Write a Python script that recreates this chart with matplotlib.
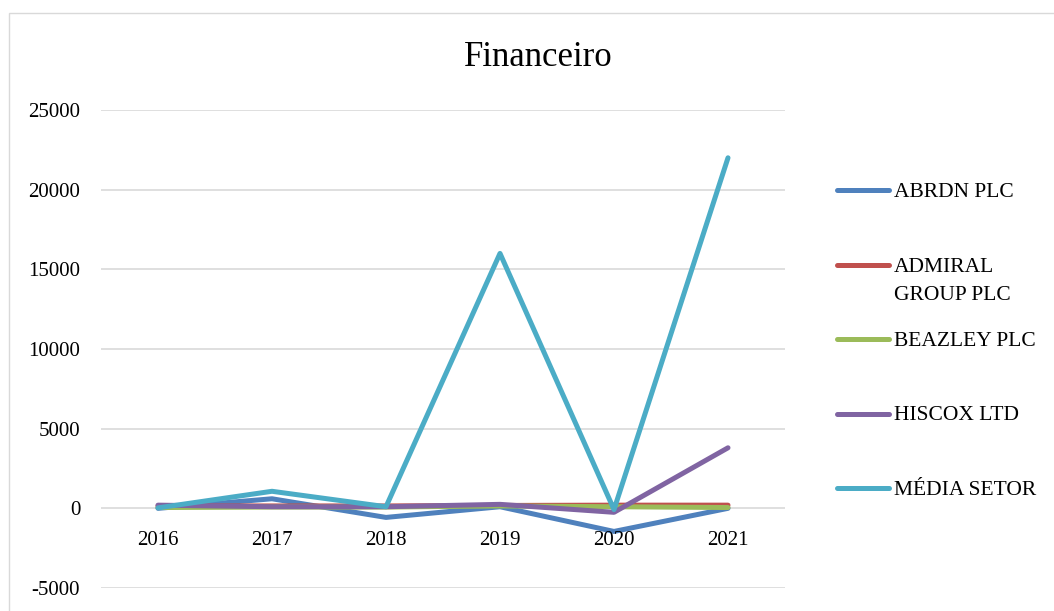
import matplotlib
matplotlib.use("Agg")
import matplotlib.pyplot as plt
from matplotlib.lines import Line2D
from matplotlib.patches import Rectangle

# Dados
anos = ["2016", "2017", "2018", "2019", "2020", "2021"]
series = ["ABRDN PLC", "ADMIRAL\nGROUP PLC", "BEAZLEY PLC", "HISCOX LTD", "MÉDIA SETOR"]
abrdn = [0, 600, -570, 100, -1450, 0]
admiral = [150, 150, 150, 180, 200, 200]
beazley = [50, 80, 80, 150, 100, 50]
hiscox = [200, 100, 100, 250, -250, 3800]
media = [30, 1070, 100, 16000, -80, 22000]
valores = [abrdn, admiral, beazley, hiscox, media]
cores = ["#4F81BD", "#C0504D", "#9BBB59", "#8064A2", "#4BACC6"]

plt.rcParams["font.family"] = ["Liberation Serif", "DejaVu Serif"]

fig = plt.figure(figsize=(10.54, 6.11), dpi=100)
W, H = 1054, 611

# moldura do grafico
fig.add_artist(Rectangle((9 / W, -0.1), 1.2, (H - 13) / H + 0.1, transform=fig.transFigure,
                         fill=False, edgecolor="#D9D9D9", linewidth=1))

ax = fig.add_axes([101 / W, (H - 588) / H, 684 / W, 478 / H])
x = list(range(len(anos)))
for v, c in zip(valores, cores):
    ax.plot(x, v, color=c, linewidth=3.6, solid_capstyle="round", solid_joinstyle="round")

ax.set_xlim(-0.5, len(anos) - 0.5)
ax.set_ylim(-5000, 25000)
ax.set_yticks(range(-5000, 25001, 5000))
ax.set_yticklabels([str(t) for t in range(-5000, 25001, 5000)])
ax.grid(axis="y", color="#D9D9D9", linewidth=1.2)
ax.set_axisbelow(True)
for s in ax.spines.values():
    s.set_visible(False)
ax.tick_params(axis="y", length=0, pad=15, labelsize=15)
ax.set_xticks([])
for xi, a in zip(x, anos):
    ax.annotate(a, (xi, 0), xytext=(0, -23), textcoords="offset points",
                ha="center", va="center", fontsize=15)

fig.text(538 / W, 1 - 57 / H, "Financeiro", ha="center", va="center", fontsize=25)

# legenda manual
y0 = 190
for i, (nome, c) in enumerate(zip(series, cores)):
    ypx = y0 + i * 74.5
    yy = 1 - ypx / H
    fig.add_artist(Line2D([837 / W, 889 / W], [yy, yy], transform=fig.transFigure,
                          color=c, linewidth=3.6, solid_capstyle="round"))
    for j, linha in enumerate(nome.split("\n")):
        fig.text(894 / W, 1 - (ypx + j * 28) / H, linha, ha="left", va="center_baseline",
                 fontsize=15.5)

fig.savefig("out.png", dpi=100)
